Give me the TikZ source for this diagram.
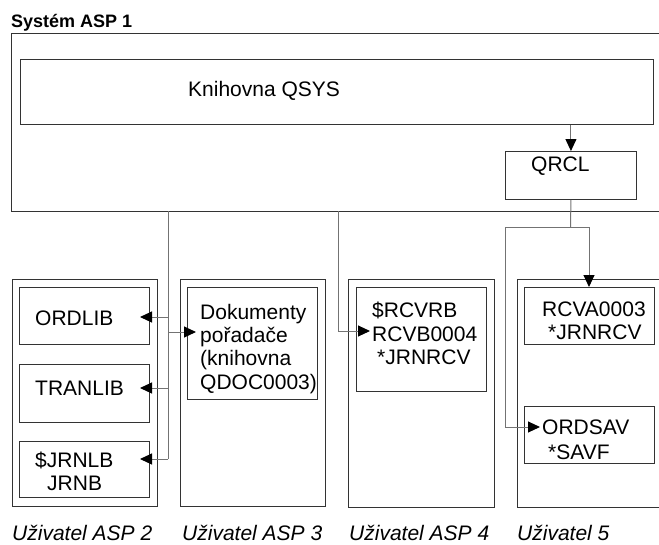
\documentclass[tikz,border=0pt]{standalone}
\usepackage{fontspec}
\setmainfont{Liberation Sans}
\usetikzlibrary{arrows.meta}
\begin{document}
\begin{tikzpicture}[x=1pt,y=-1pt,
  box/.style={draw=black!80, line width=0.9pt, inner sep=0pt, anchor=north west},
  conn/.style={draw=black!55, line width=1pt},
  arr/.style={conn, -{Triangle[length=12pt,width=11pt,color=black]}},
  lbl/.style={inner sep=0pt, anchor=base west, font=\fontsize{21}{23}\selectfont},
  captxt/.style={inner sep=0pt, anchor=base west, font=\fontsize{21}{23}\selectfont\itshape},
  ttl/.style={inner sep=0pt, anchor=base west, font=\fontsize{18}{20}\selectfont\bfseries}]
\useasboundingbox (0,0) rectangle (659,544);
% title
\node[ttl] (title) at (11,27) {Systém ASP 1};
% system ASP box (open to the right)
\node[box, minimum width=760pt, minimum height=178pt] (asp1) at (11,33) {};
\node[box, minimum width=633pt, minimum height=65pt] (qsys) at (20,59) {};
\node[lbl] (qsyst) at (188,96) {Knihovna QSYS};
\node[box, minimum width=131pt, minimum height=48pt] (qrcl) at (505,151) {};
\node[lbl] (qrclt) at (531,171.5) {QRCL};
% user ASP boxes
\node[box, minimum width=145pt, minimum height=227pt] (u2) at (12,279) {};
\node[box, minimum width=145pt, minimum height=227pt] (u3) at (180,279) {};
\node[box, minimum width=146pt, minimum height=228pt] (u4) at (348,279) {};
\node[box, minimum width=200pt, minimum height=228pt] (u5) at (517,279) {};
% inner boxes
\node[box, minimum width=130pt, minimum height=57pt] (ordlib) at (19,287) {};
\node[lbl] (ordlibt) at (35,325.5) {ORDLIB};
\node[box, minimum width=130pt, minimum height=58pt] (tranlib) at (19,364) {};
\node[lbl] (tranlibt) at (35,395.5) {TRANLIB};
\node[box, minimum width=130pt, minimum height=56pt] (jrnlb) at (19,441) {};
\node[lbl] (jrnlbt1) at (35,467) {\$JRNLB};
\node[lbl] (jrnlbt2) at (47,490.5) {JRNB};
\node[box, minimum width=130pt, minimum height=112pt] (dok) at (187,287) {};
\node[lbl] (dokt1) at (200,319.5) {Dokumenty};
\node[lbl] (dokt2) at (200,342.5) {pořadače};
\node[lbl] (dokt3) at (200,365.5) {(knihovna};
\node[lbl] (dokt4) at (200,389.5) {QDOC0003)};
\node[box, minimum width=130pt, minimum height=104pt] (rcvb) at (356,287) {};
\node[lbl] (rcvbt1) at (372,317.5) {\$RCVRB};
\node[lbl] (rcvbt2) at (372,341.5) {RCVB0004};
\node[lbl] (rcvbt3) at (377,364.5) {*JRNRCV};
\node[box, minimum width=130pt, minimum height=57pt] (rcva) at (524,287) {};
\node[lbl] (rcvat1) at (542,316.5) {RCVA0003};
\node[lbl] (rcvat2) at (548,339.5) {*JRNRCV};
\node[box, minimum width=130pt, minimum height=57pt] (ordsav) at (524,406) {};
\node[lbl] (ordsavt1) at (542,434.5) {ORDSAV};
\node[lbl] (ordsavt2) at (548,459.5) {*SAVF};
% captions
\node[captxt] (c2) at (12,540) {Uživatel ASP 2};
\node[captxt] (c3) at (182,540) {Uživatel ASP 3};
\node[captxt] (c4) at (349,540) {Uživatel ASP 4};
\node[captxt] (c5) at (517,540) {Uživatel 5};
% connector points
\coordinate (a2) at (168,211);
\coordinate (a4) at (338,211);
\coordinate (tord) at (140,317);
\coordinate (ttran) at (140,388);
\coordinate (tjrn) at (140,459);
\coordinate (tdok) at (196,332);
\coordinate (trcvb) at (370,331);
\coordinate (j5) at (570.5,227);
\coordinate (j5l) at (505,227);
\coordinate (j5r) at (589,227);
\coordinate (tsav) at (540,427);
% connectors
\draw[arr] (qsys.south -| qrcl.north) -- (qrcl.north);
\draw[conn] (a2) -- (a2 |- tjrn);
\draw[arr] (a2 |- tord) -- (tord);
\draw[arr] (a2 |- ttran) -- (ttran);
\draw[arr] (a2 |- tjrn) -- (tjrn);
\draw[arr] (a2 |- tdok) -- (tdok);
\draw[arr] (a4) |- (trcvb);
\draw[conn] (qrcl.south) -- (j5);
\draw[conn] (j5l) -- (j5r);
\draw[arr] (j5r) -- (j5r |- rcva.north);
\draw[arr] (j5l) |- (tsav);
\end{tikzpicture}
\end{document}
